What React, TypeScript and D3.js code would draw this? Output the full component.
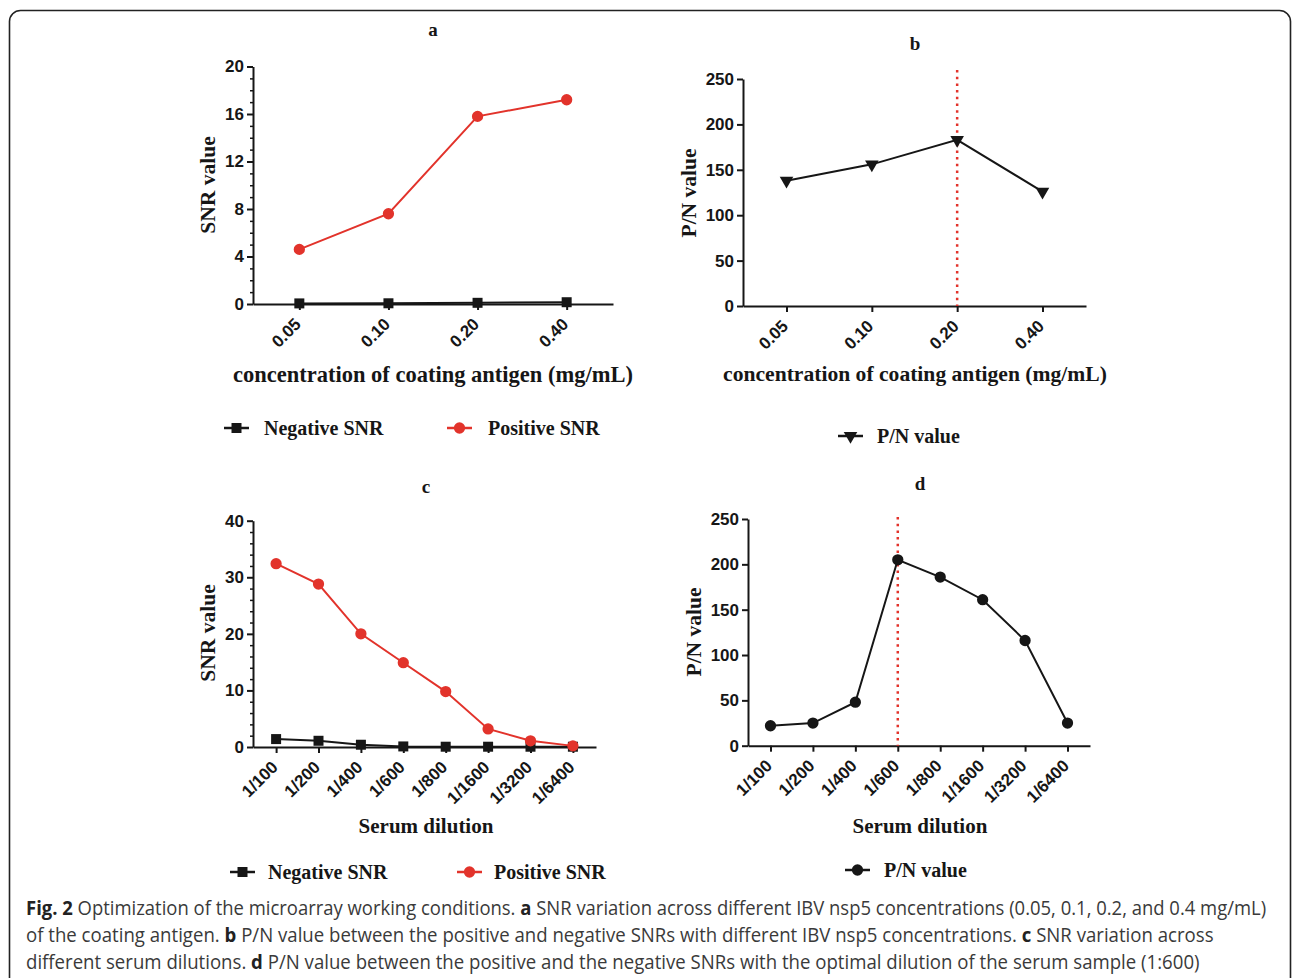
import React, { useEffect, useLayoutEffect, useRef } from "react";
import * as d3 from "d3";

// panel a / b : coating antigen concentration
const concentrations = ["0.05", "0.10", "0.20", "0.40"];
const negSnrA = [0.05, 0.06, 0.1, 0.15];
const posSnrA = [4.6, 7.6, 15.8, 17.2];
const pnB = [138, 156, 183, 126];

// panel c / d : serum dilution
const dilutions = ["1/100", "1/200", "1/400", "1/600", "1/800", "1/1600", "1/3200", "1/6400"];
const negSnrC = [1.4, 1.1, 0.4, 0.1, 0.05, 0.05, 0.05, 0.05];
const posSnrC = [32.4, 28.8, 20.0, 14.9, 9.8, 3.2, 1.1, 0.2];
const pnD = [22, 25, 48, 205, 186, 161, 116, 25];

const snrTicksA = [0, 4, 8, 12, 16, 20];
const snrTicksC = [0, 10, 20, 30, 40];
const pnTicks = [0, 50, 100, 150, 200, 250];

const RED = "#e2332b";
const INK = "#161616";
const SERIF = "'Liberation Serif', 'Times New Roman', serif";
const SANS = "'Liberation Sans', Arial, sans-serif";

const symbols = {
  square: d3.symbol().type(d3.symbolSquare).size(100)(),
  circle: d3.symbol().type(d3.symbolCircle).size(100)(),
  triangle: d3.symbol().type(d3.symbolTriangle).size(80)()
};

function Marker({ kind, x, y, color }) {
  const rot = kind === "triangle" ? " rotate(180)" : "";
  return <path d={symbols[kind]} transform={`translate(${x},${y})${rot}`} fill={color} />;
}

function Panel(props) {
  const { box, cats, pad, yMax, yTicks, minorStep, series, refCat, refTop, title, yLabel, xLabel, legend } = props;
  const yAxisRef = useRef(null);
  const yMinorRef = useRef(null);
  const xAxisRef = useRef(null);

  const x = d3.scalePoint().domain(cats).range([box.left, box.right]).padding(pad);
  const y = d3.scaleLinear().domain([0, yMax]).range([box.bottom, box.top]);

  useEffect(() => {
    const yAxis = d3.axisLeft(y).tickValues(yTicks).tickSize(6).tickSizeOuter(0).tickPadding(3);
    const ya = d3.select(yAxisRef.current).call(yAxis);
    ya.select(".domain").attr("stroke", INK).attr("stroke-width", 2);
    ya.selectAll(".tick line").attr("stroke", INK).attr("stroke-width", 2);
    ya.selectAll(".tick text")
      .attr("fill", INK)
      .style("font-family", SANS)
      .style("font-weight", "bold")
      .style("font-size", "17px");

    if (minorStep) {
      const minor = d3.range(0, yMax + minorStep / 2, minorStep).filter(v => !yTicks.includes(v));
      const ym = d3.select(yMinorRef.current).call(
        d3.axisLeft(y).tickValues(minor).tickSize(3).tickSizeOuter(0).tickFormat(() => "")
      );
      ym.select(".domain").remove();
      ym.selectAll(".tick line").attr("stroke", INK).attr("stroke-width", 1.5);
    }

    const xAxis = d3.axisBottom(x).tickSize(6).tickSizeOuter(0);
    const xa = d3.select(xAxisRef.current).call(xAxis);
    xa.select(".domain").attr("stroke", INK).attr("stroke-width", 2);
    xa.selectAll(".tick line").attr("stroke", INK).attr("stroke-width", 2);
    xa.selectAll(".tick text")
      .attr("fill", INK)
      .attr("x", 0)
      .attr("y", 0)
      .attr("dy", "0.35em")
      .attr("text-anchor", "end")
      .attr("transform", "translate(-2,17) rotate(-45)")
      .style("font-family", SANS)
      .style("font-weight", "bold")
      .style("font-size", "17px");
  });

  const line = d3.line().x((d, i) => x(cats[i])).y(d => y(d));

  return (
    <g>
      <text x={title.x} y={title.y} textAnchor="middle" fontFamily={SERIF} fontWeight="bold" fontSize={19} fill={INK}>
        {title.text}
      </text>
      <text
        transform={`translate(${yLabel.x},${yLabel.y}) rotate(-90)`}
        textAnchor="middle"
        fontFamily={SERIF}
        fontWeight="bold"
        fontSize={21.5}
        fill={INK}
      >
        {yLabel.text}
      </text>
      <text
        x={xLabel.x}
        y={xLabel.y}
        textAnchor="middle"
        fontFamily={SERIF}
        fontWeight="bold"
        fontSize={xLabel.size || 21}
        fill={INK}
      >
        {xLabel.text}
      </text>

      <g ref={yMinorRef} transform={`translate(${box.left},0)`} />
      <g ref={yAxisRef} transform={`translate(${box.left},0)`} />
      <g ref={xAxisRef} transform={`translate(0,${box.bottom})`} />

      {refCat && (
        <line
          x1={x(refCat)}
          x2={x(refCat)}
          y1={refTop}
          y2={box.bottom}
          stroke={RED}
          strokeWidth={2.5}
          strokeDasharray="2.5 4.2"
        />
      )}

      {series.map(s => (
        <g key={s.name}>
          <path d={line(s.values)} fill="none" stroke={s.color} strokeWidth={2} />
          {s.values.map((v, i) => (
            <Marker key={i} kind={s.marker} x={x(cats[i])} y={y(v)} color={s.color} />
          ))}
        </g>
      ))}

      {legend.items.map(it => (
        <g key={it.name}>
          <line x1={it.x} x2={it.x + 25} y1={legend.y} y2={legend.y} stroke={it.color} strokeWidth={2.5} />
          <Marker kind={it.marker} x={it.x + 12.5} y={legend.y} color={it.color} />
          <text x={it.tx} y={legend.y + 7} fontFamily={SERIF} fontWeight="bold" fontSize={20} fill={INK}>
            {it.name}
          </text>
        </g>
      ))}
    </g>
  );
}

// caption line squeezed to the width it has in the figure
function CaptionLine({ x, y, width, parts }) {
  const ref = useRef(null);
  useLayoutEffect(() => {
    const el = ref.current;
    const w = el.getComputedTextLength();
    if (w > 0) el.setAttribute("transform", `translate(${x},${y}) scale(${width / w},1)`);
  }, [x, y, width]);
  return (
    <text
      ref={ref}
      transform={`translate(${x},${y})`}
      fontFamily="'Open Sans', 'Noto Sans', sans-serif"
      fontSize={20}
      fill="#3a3a3a"
    >
      {parts.map((p, i) =>
        p.bold ? (
          <tspan key={i} fontWeight="bold" fill="#222">{p.t}</tspan>
        ) : (
          <tspan key={i}>{p.t}</tspan>
        )
      )}
    </text>
  );
}

const captionLines = [
  [
    { t: "Fig. 2", bold: true },
    { t: " Optimization of the microarray working conditions. " },
    { t: "a", bold: true },
    { t: " SNR variation across different IBV nsp5 concentrations (0.05, 0.1, 0.2, and 0.4 mg/mL)" }
  ],
  [
    { t: "of the coating antigen. " },
    { t: "b", bold: true },
    { t: " P/N value between the positive and negative SNRs with different IBV nsp5 concentrations. " },
    { t: "c", bold: true },
    { t: " SNR variation across" }
  ],
  [
    { t: "different serum dilutions. " },
    { t: "d", bold: true },
    { t: " P/N value between the positive and the negative SNRs with the optimal dilution of the serum sample (1:600)" }
  ]
];
const captionWidths = [1241, 1188, 1174];

const negA = { name: "Negative SNR", values: negSnrA, color: INK, marker: "square" };
const posA = { name: "Positive SNR", values: posSnrA, color: RED, marker: "circle" };
const negC = { name: "Negative SNR", values: negSnrC, color: INK, marker: "square" };
const posC = { name: "Positive SNR", values: posSnrC, color: RED, marker: "circle" };
const pnSeriesB = { name: "P/N value", values: pnB, color: INK, marker: "triangle" };
const pnSeriesD = { name: "P/N value", values: pnD, color: INK, marker: "circle" };

export default function App() {
  return (
    <svg width={1292} height={978} style={{ position: "absolute", left: 0, top: 0, background: "#fff" }}>
      <rect x={9.5} y={10.5} width={1281} height={1010} rx={11} fill="#fff" stroke="#222" strokeWidth={1.6} />

      <Panel
        box={{ left: 253, right: 613, top: 66.5, bottom: 304 }}
        cats={concentrations}
        pad={0.52}
        yMax={20}
        yTicks={snrTicksA}
        minorStep={1}
        series={[negA, posA]}
        title={{ text: "a", x: 433, y: 36 }}
        yLabel={{ text: "SNR value", x: 215, y: 185 }}
        xLabel={{ text: "concentration of coating antigen (mg/mL)", x: 433, y: 382, size: 22.5 }}
        legend={{
          y: 428,
          items: [
            { ...negA, x: 224, tx: 264 },
            { ...posA, x: 447, tx: 488 }
          ]
        }}
      />
      <Panel
        box={{ left: 743, right: 1086, top: 79, bottom: 306 }}
        cats={concentrations}
        pad={0.51}
        yMax={250}
        yTicks={pnTicks}
        series={[pnSeriesB]}
        refCat="0.20"
        refTop={70}
        title={{ text: "b", x: 915, y: 50 }}
        yLabel={{ text: "P/N value", x: 696, y: 193 }}
        xLabel={{ text: "concentration of coating antigen (mg/mL)", x: 915, y: 381, size: 21.6 }}
        legend={{ y: 436, items: [{ ...pnSeriesB, x: 838, tx: 877 }] }}
      />
      <Panel
        box={{ left: 253, right: 596, top: 520.7, bottom: 747 }}
        cats={dilutions}
        pad={0.545}
        yMax={40}
        yTicks={snrTicksC}
        minorStep={2}
        series={[negC, posC]}
        title={{ text: "c", x: 426, y: 493 }}
        yLabel={{ text: "SNR value", x: 215, y: 633 }}
        xLabel={{ text: "Serum dilution", x: 426, y: 833 }}
        legend={{
          y: 872,
          items: [
            { ...negC, x: 230, tx: 268 },
            { ...posC, x: 457, tx: 494 }
          ]
        }}
      />
      <Panel
        box={{ left: 748, right: 1090, top: 519, bottom: 745.7 }}
        cats={dilutions}
        pad={0.53}
        yMax={250}
        yTicks={pnTicks}
        series={[pnSeriesD]}
        refCat="1/600"
        refTop={517}
        title={{ text: "d", x: 920, y: 490 }}
        yLabel={{ text: "P/N value", x: 701, y: 632 }}
        xLabel={{ text: "Serum dilution", x: 920, y: 833 }}
        legend={{ y: 870, items: [{ ...pnSeriesD, x: 845, tx: 884 }] }}
      />

      {captionLines.map((parts, i) => (
        <CaptionLine key={i} x={26} y={915 + i * 27} width={captionWidths[i]} parts={parts} />
      ))}
    </svg>
  );
}
